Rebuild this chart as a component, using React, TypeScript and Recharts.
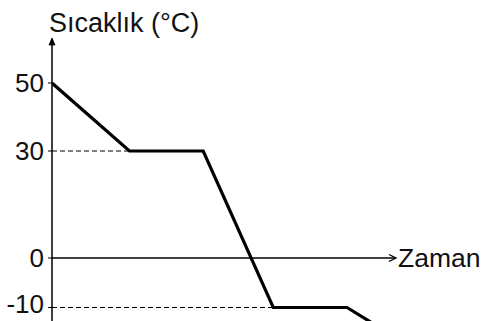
import React from 'react';
import { LineChart, Line, XAxis, YAxis, ReferenceLine, Label } from 'recharts';

// ---- data ----
const TIME = [0, 1.05, 2.05, 3, 4, 5];
const TEMP = [50, 30, 30, -10, -10, -19];
const Y_TICKS = [50, 30, 0, -10];
const Y_TITLE = 'Sıcaklık (°C)';
const X_TITLE = 'Zaman';

const data = TIME.map((t, i) => ({ t, temp: TEMP[i] }));

// ---- schematic (non-uniform) temperature axis ----
const Y_DOMAIN = [-20, 63];
const X_DOMAIN = [0, 4.664];
const KNOT_VALUES = [-20, -10, 0, 30, 50, 63];
const KNOT_POS = [0, 50.5, 100, 207, 275, 320];

function warp(v: number, from: number[], to: number[]) {
  const n = from.length;
  let i = 0;
  if (v <= from[0]) i = 0;
  else if (v >= from[n - 1]) i = n - 2;
  else {
    while (i < n - 2 && v > from[i + 1]) i++;
  }
  const a = from[i], b = from[i + 1];
  return to[i] + ((v - a) * (to[i + 1] - to[i])) / (b - a);
}

function makeSchematicScale(): any {
  let dom: number[] = [KNOT_VALUES[0], KNOT_VALUES[KNOT_VALUES.length - 1]];
  let rng: number[] = [1, 0];
  const scale: any = (v: any) => {
    const a = warp(Number(dom[0]), KNOT_VALUES, KNOT_POS);
    const b = warp(Number(dom[1]), KNOT_VALUES, KNOT_POS);
    const p = warp(Number(v), KNOT_VALUES, KNOT_POS);
    return rng[0] + ((p - a) / (b - a)) * (rng[1] - rng[0]);
  };
  scale.domain = (...args: any[]) => {
    if (!args.length) return dom.slice();
    dom = [...args[0]].map(Number);
    return scale;
  };
  scale.range = (...args: any[]) => {
    if (!args.length) return rng.slice();
    rng = [...args[0]].map(Number);
    return scale;
  };
  scale.copy = () => makeSchematicScale().domain(dom).range(rng);
  scale.ticks = () => Y_TICKS.slice();
  scale.invert = (px: number) => {
    const a = warp(Number(dom[0]), KNOT_VALUES, KNOT_POS);
    const b = warp(Number(dom[1]), KNOT_VALUES, KNOT_POS);
    const p = a + ((px - rng[0]) / (rng[1] - rng[0])) * (b - a);
    return warp(p, KNOT_POS, KNOT_VALUES);
  };
  return scale;
}

const schematicScale = makeSchematicScale();

const FONT = '"Liberation Sans", Arial, Helvetica, sans-serif';
const TEXT_COLOR = '#111';
const LABEL_MAX_Y = 304;

const YTick = (p: any) => {
  const cy = Math.min(p.y, LABEL_MAX_Y);
  return (
    <text
      x={p.x}
      y={cy}
      dy="0.355em"
      textAnchor="end"
      fill={TEXT_COLOR}
      fontSize={26}
      fontFamily={FONT}
    >
      {p.payload.value}
    </text>
  );
};

const VerticalAxisShape = (props: any) => {
  const x = props.x1;
  const top = Math.min(props.y1, props.y2);
  const bottom = Math.max(props.y1, props.y2);
  return (
    <g>
      <line x1={x} y1={top + 1} x2={x} y2={bottom} stroke="#000" strokeWidth={1.5} />
      <path d={`M ${x - 3} ${top + 7} L ${x} ${top} L ${x + 3} ${top + 7} Z`} fill="#000" stroke="#000" strokeWidth={0.8} strokeLinejoin="miter" />
    </g>
  );
};

const HorizontalAxisShape = (props: any) => {
  const y = props.y1;
  const left = Math.min(props.x1, props.x2);
  const right = Math.max(props.x1, props.x2);
  return (
    <g>
      <line x1={left} y1={y} x2={right - 1} y2={y} stroke="#000" strokeWidth={1.5} />
      <polyline points={`${right - 7},${y - 3.5} ${right},${y} ${right - 7},${y + 3.5}`} fill="none" stroke="#000" strokeWidth={1.3} />
    </g>
  );
};

export default function App() {
  return (
    <div
      style={{
        position: 'fixed',
        left: 0,
        top: 0,
        width: 484,
        height: 321,
        overflow: 'hidden',
        background: '#fff',
      }}
    >
      <LineChart
        width={484}
        height={362}
        data={data}
        margin={{ top: 38, right: 88, bottom: 4, left: 0 }}
      >
        <XAxis type="number" dataKey="t" domain={X_DOMAIN} hide allowDataOverflow />
        <YAxis
          type="number"
          domain={Y_DOMAIN}
          scale={schematicScale}
          ticks={Y_TICKS}
          interval={0}
          width={52}
          axisLine={false}
          tickLine={{ stroke: '#000', strokeWidth: 1 }}
          tickSize={4}
          tickMargin={4}
          tick={YTick}
        />
        <ReferenceLine
          segment={[{ x: 0, y: TEMP[1] }, { x: TIME[1], y: TEMP[1] }]}
          stroke="#000"
          strokeWidth={1.1}
          strokeDasharray="5 3"
        />
        <ReferenceLine
          segment={[{ x: 0, y: TEMP[3] }, { x: TIME[3], y: TEMP[3] }]}
          stroke="#000"
          strokeWidth={1.1}
          strokeDasharray="5 3"
        />
        <ReferenceLine x={0} shape={VerticalAxisShape}>
          <Label
            content={(p: any) => {
              const vb = p.viewBox || {};
              return (
                <text x={(vb.x ?? 52) - 3} y={(vb.y ?? 38) - 6.5} fill={TEXT_COLOR} fontSize={27} fontFamily={FONT}>
                  {Y_TITLE}
                </text>
              );
            }}
          />
        </ReferenceLine>
        <ReferenceLine y={0} shape={HorizontalAxisShape}>
          <Label value={X_TITLE} position="right" offset={2} fill={TEXT_COLOR} fontSize={26.5} fontFamily={FONT} />
        </ReferenceLine>
        <Line
          type="linear"
          dataKey="temp"
          stroke="#000"
          strokeWidth={3.2}
          strokeLinejoin="miter"
          dot={false}
          activeDot={false}
          isAnimationActive={false}
        />
      </LineChart>
    </div>
  );
}
